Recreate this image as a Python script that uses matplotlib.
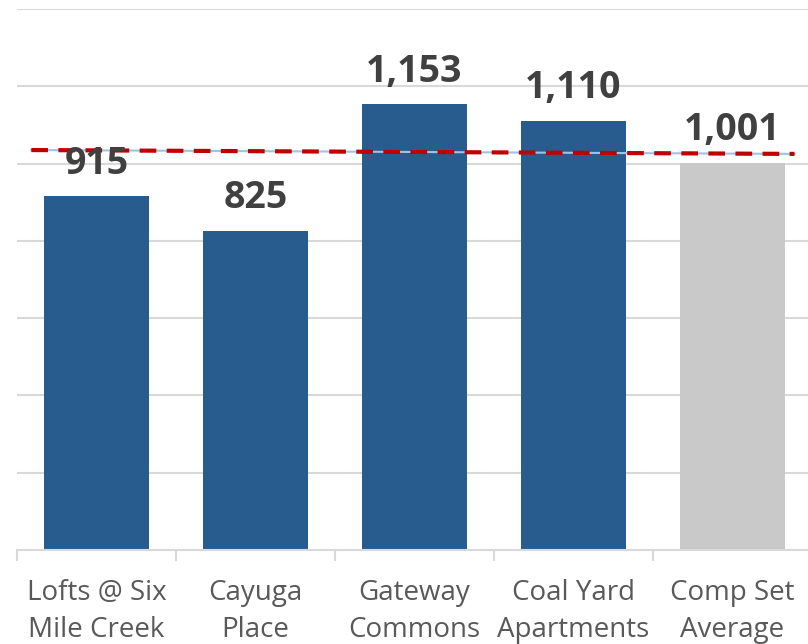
import matplotlib.pyplot as plt
import numpy as np

# ---------------- Data ----------------
categories = ["Lofts @ Six\nMile Creek", "Cayuga\nPlace", "Gateway\nCommons",
              "Coal Yard\nApartments", "Comp Set\nAverage"]
values = [915, 825, 1153, 1110, 1001]
bar_colors = ["#285C8E", "#285C8E", "#285C8E", "#285C8E", "#C9C9C9"]

# reference line (ends)
ref_x = [-0.41, 4.39]
ref_y = [1035, 1025]

# ---------------- Figure ----------------
plt.rcParams['font.family'] = ['Open Sans', 'DejaVu Sans']
fig = plt.figure(figsize=(8.08, 6.44), dpi=100)
ax = fig.add_axes([17 / 808, 94 / 644, 795 / 808, 541 / 644])

x = np.arange(len(categories))
ax.bar(x, values, width=0.66, color=bar_colors, zorder=2)

for xi, v in zip(x, values):
    ax.annotate(f"{v:,}", (xi, v), xytext=(0, 10), textcoords="offset points",
                ha="center", va="bottom", fontsize=27, fontweight="bold",
                color="#404040", zorder=4)

ax.plot(ref_x, ref_y, color="#9DC3E6", lw=1.5, zorder=3)
ax.plot(ref_x, ref_y, color="#C00000", lw=3, ls=(0, (4, 2.5)), zorder=3)

ax.set_xlim(-0.5, 4.5)
ax.set_ylim(0, 1400)
ax.set_yticks(np.arange(200, 1401, 200))
ax.yaxis.grid(True, color="#D9D9D9", lw=1.5, zorder=0)
ax.tick_params(axis="y", left=False, labelleft=False)

ax.set_xticks(x)
ax.set_xticklabels(categories, fontsize=20, color="#595959", linespacing=1.4)
ax.set_xticks(np.arange(-0.5, 4.6, 1), minor=True)
ax.tick_params(axis="x", which="major", length=0, pad=21)
ax.tick_params(axis="x", which="minor", length=8, width=1.5, color="#D9D9D9")

for side in ["left", "right", "top"]:
    ax.spines[side].set_visible(False)
ax.spines["bottom"].set_color("#D9D9D9")
ax.spines["bottom"].set_linewidth(1.5)

fig.savefig("out.png", dpi=100)
